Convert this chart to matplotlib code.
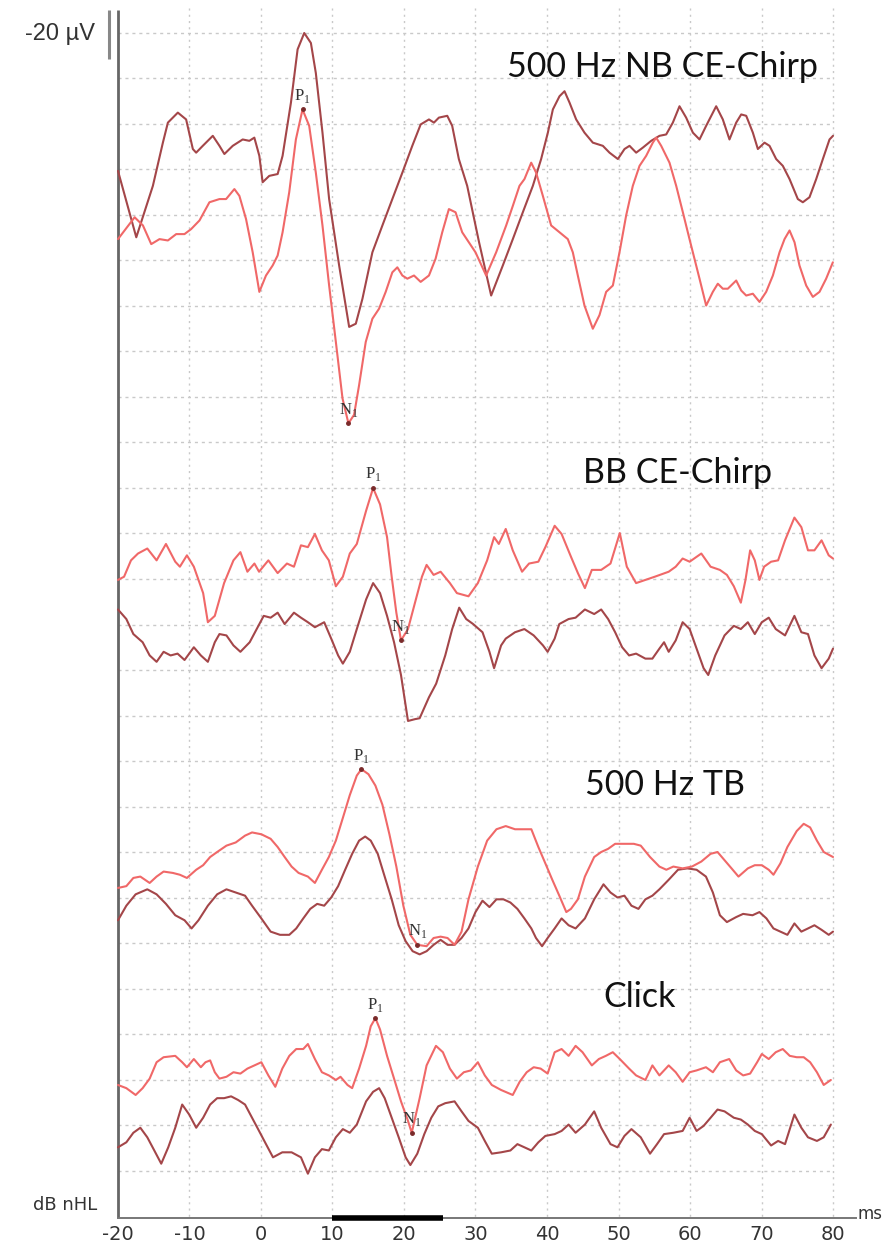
import numpy as np
import matplotlib
matplotlib.use("Agg")
import matplotlib.pyplot as plt

# ---------------- data (latency in ms, vertical position in grid divisions from top) -------------
nb_dark = [(-20, 3.03), (-17.44, 4.49), (-15.12, 3.36), (-13.72, 2.41), (-13.02, 1.97), (-11.63, 1.75),
           (-10.47, 1.90), (-9.53, 2.55), (-9.07, 2.63), (-8.14, 2.48), (-6.74, 2.26), (-5.81, 2.48),
           (-5.12, 2.66), (-3.95, 2.48), (-2.56, 2.34), (-1.63, 2.37), (-0.93, 2.30), (-0.23, 2.70),
           (0.23, 3.28), (1.16, 3.14), (2.33, 3.10), (3.02, 2.70), (4.19, 1.53), (5.12, 0.36), (6.05, 0.0),
           (6.98, 0.22), (7.67, 0.88), (8.6, 2.19), (9.53, 3.65), (10.93, 5.11), (12.33, 6.46), (13.26, 6.39),
           (14.19, 5.84), (15.58, 4.82), (16.98, 4.23), (18.37, 3.65), (19.77, 3.07), (21.16, 2.48),
           (22.33, 2.01), (23.49, 1.90), (24.19, 1.97), (24.88, 1.86), (26.05, 1.82), (26.74, 2.04),
           (27.67, 2.77), (28.84, 3.36), (30.5, 4.6), (32.19, 5.77), (33.82, 5.11), (35.22, 4.53),
           (36.62, 3.94), (38.02, 3.36), (39.18, 2.77), (40.12, 2.19), (40.82, 1.68), (41.75, 1.39),
           (42.45, 1.28), (43.15, 1.53), (44.08, 1.90), (45.24, 2.19), (46.41, 2.41), (47.81, 2.48),
           (48.74, 2.63), (49.91, 2.77), (50.84, 2.55), (51.54, 2.48), (52.47, 2.63), (53.4, 2.52),
           (54.57, 2.37), (55.73, 2.26), (56.67, 2.23), (57.6, 1.97), (58.53, 1.61), (59.46, 1.86),
           (60.4, 2.19), (61.33, 2.34), (62.26, 2.04), (63.66, 1.61), (64.59, 1.90), (65.52, 2.34),
           (66.46, 1.97), (67.16, 1.79), (67.86, 1.82), (68.79, 2.19), (69.49, 2.55), (70.42, 2.41),
           (71.12, 2.48), (72.05, 2.77), (72.98, 2.92), (73.92, 3.21), (75.08, 3.65), (75.78, 3.72),
           (76.71, 3.61), (77.65, 3.21), (78.58, 2.77), (79.51, 2.34), (80.0, 2.26)]

nb_light = [(-20, 4.53), (-17.67, 4.05), (-16.51, 4.23), (-15.35, 4.64), (-14.19, 4.53), (-13.02, 4.56),
            (-11.86, 4.42), (-10.7, 4.42), (-9.77, 4.31), (-8.6, 4.12), (-7.21, 3.72), (-5.81, 3.65),
            (-4.88, 3.65), (-3.72, 3.43), (-3.02, 3.58), (-2.09, 4.09), (-1.16, 4.82), (-0.23, 5.69),
            (0.7, 5.33), (1.63, 5.11), (2.33, 4.89), (3.02, 4.38), (3.95, 3.50), (4.88, 2.34), (5.81, 1.68),
            (6.74, 2.04), (7.67, 3.07), (8.6, 4.23), (9.53, 5.55), (10.47, 6.79), (11.4, 8.03), (12.23, 8.58),
            (13.02, 8.39), (13.72, 7.74), (14.65, 6.79), (15.58, 6.28), (16.51, 6.06), (17.44, 5.69),
            (18.37, 5.26), (19.07, 5.15), (19.77, 5.33), (20.47, 5.40), (21.4, 5.33), (22.33, 5.47),
            (23.49, 5.33), (24.42, 4.96), (25.35, 4.38), (26.28, 3.87), (27.21, 3.94), (28.14, 4.38),
            (29.07, 4.60), (30.0, 4.82), (31.49, 5.33), (32.89, 4.82), (34.29, 4.23), (35.22, 3.80),
            (36.15, 3.36), (36.85, 3.21), (37.79, 2.85), (38.48, 3.07), (39.42, 3.58), (40.58, 4.23),
            (41.75, 4.38), (42.91, 4.53), (43.61, 4.82), (44.31, 5.33), (45.24, 5.99), (46.41, 6.50),
            (47.34, 6.20), (48.27, 5.69), (49.21, 5.55), (50.14, 4.82), (51.07, 4.01), (52.0, 3.36),
            (52.94, 2.92), (53.87, 2.70), (54.8, 2.41), (55.27, 2.30), (55.97, 2.48), (57.13, 2.85),
            (58.07, 3.36), (59.0, 3.94), (59.93, 4.53), (61.33, 5.40), (62.26, 5.99), (63.19, 5.69),
            (63.89, 5.51), (64.59, 5.62), (65.29, 5.62), (66.46, 5.44), (67.16, 5.66), (67.86, 5.77),
            (68.79, 5.73), (69.72, 5.91), (70.65, 5.69), (71.59, 5.33), (72.52, 4.82), (73.22, 4.53),
            (73.92, 4.34), (74.62, 4.60), (75.31, 5.11), (76.25, 5.55), (77.18, 5.80), (78.11, 5.69),
            (79.04, 5.40), (79.98, 5.04)]

bb_light = [(-20, 12.02), (-19.15, 11.95), (-18.18, 11.59), (-17.2, 11.44), (-15.9, 11.33), (-14.6, 11.59),
            (-13.29, 11.23), (-11.99, 11.62), (-11.34, 11.73), (-10.36, 11.48), (-9.39, 11.73), (-8.09, 12.31),
            (-7.43, 12.95), (-6.46, 12.81), (-5.16, 12.09), (-3.85, 11.59), (-2.88, 11.41), (-1.9, 11.84),
            (-0.92, 11.66), (-0.27, 11.84), (1.03, 11.59), (2.33, 11.87), (3.63, 11.66), (4.61, 11.73),
            (5.59, 11.26), (6.56, 11.30), (7.54, 11.01), (8.52, 11.37), (9.49, 11.59), (10.47, 12.16),
            (11.45, 11.95), (12.42, 11.44), (13.4, 11.23), (14.7, 10.5), (15.68, 10.0), (16.65, 10.36),
            (17.63, 11.08), (18.28, 11.95), (18.93, 12.74), (19.58, 13.35), (20.56, 13.1), (21.54, 12.52),
            (22.51, 11.95), (23.16, 11.69), (24.14, 11.91), (25.12, 11.84), (26.42, 12.09), (27.4, 12.31),
            (29.02, 12.38), (30.33, 12.09), (31.63, 11.59), (32.6, 11.08), (33.26, 11.23), (34.23, 10.9),
            (35.21, 11.37), (36.51, 11.84), (37.49, 11.66), (38.79, 11.62), (39.77, 11.30), (41.07, 10.83),
            (42.04, 11.01), (43.35, 11.51), (44.32, 11.87), (45.3, 12.2), (46.27, 11.8), (47.58, 11.8),
            (48.88, 11.66), (50.18, 10.99), (51.16, 11.73), (52.46, 12.09), (53.76, 12.02), (55.07, 11.95),
            (57.02, 11.84), (58.0, 11.73), (58.97, 11.55), (59.95, 11.62), (61.58, 11.44), (62.88, 11.73),
            (64.18, 11.8), (65.16, 11.91), (66.13, 12.16), (67.11, 12.52), (67.76, 12.02), (68.41, 11.37),
            (69.06, 11.59), (69.71, 12.02), (70.36, 11.73), (71.34, 11.62), (72.32, 11.59), (73.29, 11.15),
            (74.6, 10.65), (75.57, 10.86), (76.5, 11.37), (77.4, 11.37), (78.4, 11.15), (79.4, 11.48),
            (80.0, 11.55)]

bb_dark = [(-20, 12.67), (-18.83, 12.88), (-17.85, 13.21), (-16.55, 13.39), (-15.57, 13.68), (-14.6, 13.82),
           (-13.62, 13.6), (-12.64, 13.68), (-11.67, 13.64), (-10.69, 13.78), (-9.39, 13.5), (-8.41, 13.68),
           (-7.43, 13.82), (-6.46, 13.39), (-5.81, 13.21), (-4.83, 13.24), (-3.85, 13.46), (-2.88, 13.6),
           (-1.58, 13.39), (-0.6, 13.1), (0.38, 12.81), (1.35, 12.85), (2.33, 12.74), (3.31, 12.99),
           (4.61, 12.74), (5.59, 12.85), (6.56, 12.95), (7.54, 13.06), (8.84, 12.95), (9.82, 13.31),
           (10.79, 13.68), (11.45, 13.86), (12.42, 13.6), (13.4, 13.1), (14.7, 12.45), (15.68, 12.09),
           (16.65, 12.31), (17.63, 12.81), (18.61, 13.39), (19.58, 14.11), (20.56, 15.12), (21.54, 15.08),
           (22.19, 15.06), (23.49, 14.6), (24.5, 14.3), (25.77, 13.68), (26.74, 13.1), (27.72, 12.63),
           (28.7, 12.88), (29.67, 12.99), (30.98, 13.17), (31.95, 13.6), (32.6, 13.96), (33.58, 13.46),
           (34.23, 13.31), (35.53, 13.17), (36.84, 13.1), (38.14, 13.24), (39.44, 13.46), (40.09, 13.6),
           (41.07, 13.31), (41.72, 12.99), (43.02, 12.88), (44.0, 12.85), (45.3, 12.67), (46.6, 12.77),
           (47.58, 12.67), (48.55, 12.88), (49.53, 13.17), (50.51, 13.5), (51.48, 13.68), (52.46, 13.64),
           (53.76, 13.75), (54.74, 13.75), (55.72, 13.53), (56.37, 13.39), (57.02, 13.6), (58.0, 13.35),
           (58.97, 12.95), (59.95, 13.1), (60.92, 13.53), (61.9, 13.96), (62.55, 14.11), (63.53, 13.68),
           (64.83, 13.24), (66.13, 13.03), (67.11, 13.1), (68.09, 12.95), (69.06, 13.21), (70.04, 12.95),
           (71.01, 12.85), (71.99, 13.1), (73.29, 13.24), (74.6, 12.81), (75.57, 13.17), (76.5, 13.21),
           (77.4, 13.68), (78.4, 13.96), (79.4, 13.75), (80.0, 13.53)]

tb_light = [(-20, 18.79), (-18.83, 18.75), (-17.85, 18.57), (-16.875, 18.54), (-15.57, 18.68), (-14.6, 18.54),
            (-13.62, 18.43), (-12.32, 18.46), (-11.34, 18.5), (-10.36, 18.57), (-9.06, 18.39), (-8.09, 18.29),
            (-7.11, 18.11), (-6.13, 18.0), (-4.83, 17.86), (-3.53, 17.79), (-2.23, 17.64), (-1.25, 17.57),
            (0.05, 17.61), (1.35, 17.71), (2.33, 17.89), (3.31, 18.11), (4.28, 18.32), (5.26, 18.46),
            (6.56, 18.54), (7.54, 18.68), (8.52, 18.39), (9.49, 18.11), (10.47, 17.75), (11.45, 17.25),
            (12.42, 16.75), (13.4, 16.32), (14.05, 16.18), (15.03, 16.29), (16.0, 16.54), (16.98, 16.96),
            (17.96, 17.61), (18.93, 18.32), (19.91, 19.18), (20.89, 19.82), (21.86, 20.04), (23.16, 20.07),
            (24.14, 19.89), (25.12, 19.86), (26.09, 19.89), (27.07, 20.04), (28.05, 19.75), (29.02, 19.04),
            (30.33, 18.32), (31.63, 17.75), (32.93, 17.5), (34.23, 17.43), (35.53, 17.5), (36.84, 17.5),
            (37.81, 17.5), (38.79, 17.89), (39.77, 18.25), (40.74, 18.61), (41.72, 18.96), (42.7, 19.32),
            (43.35, 19.25), (44.32, 19.04), (45.3, 18.54), (46.6, 18.11), (47.58, 18.0), (48.55, 17.93),
            (49.53, 17.82), (50.51, 17.82), (52.14, 17.82), (53.11, 17.86), (54.41, 18.11), (55.72, 18.32),
            (56.69, 18.39), (57.67, 18.32), (58.97, 18.36), (60.27, 18.32), (61.58, 18.21), (62.88, 18.04),
            (63.85, 18.0), (64.83, 18.18), (65.81, 18.36), (66.78, 18.54), (68.09, 18.36), (69.06, 18.29),
            (70.04, 18.29), (71.01, 18.39), (71.67, 18.5), (72.64, 18.25), (73.62, 17.89), (74.92, 17.54),
            (75.9, 17.38), (76.8, 17.46), (77.75, 17.75), (78.7, 18.0), (80.0, 18.11)]

tb_dark = [(-20, 19.5), (-18.83, 19.18), (-17.53, 18.93), (-15.9, 18.82), (-14.6, 18.93), (-13.29, 19.14),
           (-11.99, 19.39), (-10.69, 19.5), (-9.71, 19.68), (-8.74, 19.5), (-7.43, 19.18), (-6.13, 18.93),
           (-4.83, 18.82), (-3.53, 18.89), (-2.23, 18.96), (-1.25, 19.18), (0.05, 19.46), (1.35, 19.75),
           (2.66, 19.82), (3.96, 19.82), (4.93, 19.68), (5.91, 19.46), (6.89, 19.25), (7.86, 19.14),
           (8.84, 19.18), (9.82, 19.0), (10.79, 18.75), (11.77, 18.39), (12.75, 18.04), (13.72, 17.75),
           (14.57, 17.66), (15.35, 17.75), (16.33, 18.04), (17.3, 18.54), (18.28, 19.04), (19.26, 19.61),
           (20.23, 19.96), (21.21, 20.18), (22.19, 20.25), (23.16, 20.18), (24.14, 20.04), (25.12, 19.93),
           (26.09, 20.04), (27.07, 20.04), (28.05, 19.89), (29.02, 19.68), (30.0, 19.32), (30.98, 19.07),
           (31.95, 19.21), (32.93, 19.04), (33.91, 19.04), (34.88, 19.11), (35.86, 19.25), (36.84, 19.46),
           (37.81, 19.68), (38.46, 19.89), (39.31, 20.07), (40.09, 19.89), (41.07, 19.68), (42.04, 19.46),
           (43.02, 19.61), (44.0, 19.68), (45.3, 19.46), (46.6, 19.04), (47.9, 18.71), (48.88, 18.89),
           (49.86, 19.0), (50.83, 18.96), (51.81, 19.18), (52.79, 19.25), (53.76, 19.04), (54.74, 18.96),
           (55.72, 18.82), (57.02, 18.61), (58.32, 18.39), (59.62, 18.36), (60.92, 18.39), (62.23, 18.54),
           (63.2, 18.89), (64.18, 19.39), (65.16, 19.54), (66.46, 19.43), (67.43, 19.36), (68.74, 19.39),
           (69.71, 19.32), (70.69, 19.46), (71.67, 19.68), (72.64, 19.75), (73.62, 19.82), (74.6, 19.57),
           (75.57, 19.75), (76.5, 19.68), (77.4, 19.61), (78.4, 19.71), (79.4, 19.82), (80.0, 19.75)]

click_light = [(-20, 23.12), (-18.83, 23.19), (-17.53, 23.34), (-16.55, 23.19), (-15.57, 22.98), (-14.6, 22.62),
               (-13.62, 22.51), (-11.99, 22.48), (-11.02, 22.62), (-10.36, 22.73), (-9.39, 22.55), (-8.41, 22.73),
               (-7.76, 22.62), (-7.11, 22.58), (-6.46, 22.84), (-5.81, 22.98), (-4.83, 22.94), (-3.85, 22.84),
               (-2.88, 22.87), (-1.9, 22.76), (-0.92, 22.69), (0.05, 22.62), (1.03, 22.91), (2.0, 23.16),
               (2.98, 22.76), (3.96, 22.48), (4.93, 22.33), (5.91, 22.33), (6.56, 22.22), (7.54, 22.55),
               (8.52, 22.84), (9.49, 22.91), (10.47, 23.01), (11.12, 22.94), (12.1, 23.12), (12.75, 23.19),
               (13.72, 22.76), (14.7, 22.26), (15.35, 21.83), (16.0, 21.65), (16.65, 21.9), (17.63, 22.48),
               (18.61, 22.98), (19.58, 23.48), (20.56, 23.91), (21.08, 24.17), (22.19, 23.41), (23.16, 22.69),
               (24.47, 22.26), (25.44, 22.4), (26.42, 22.76), (27.4, 22.98), (28.37, 22.84), (29.35, 22.8),
               (30.33, 22.62), (31.3, 22.91), (32.28, 23.12), (33.58, 23.23), (35.21, 23.34), (36.18, 23.05),
               (37.16, 22.84), (38.14, 22.73), (39.11, 22.76), (40.09, 22.87), (41.07, 22.4), (42.04, 22.33),
               (43.02, 22.48), (44.0, 22.26), (44.97, 22.4), (46.27, 22.69), (47.25, 22.55), (48.23, 22.48),
               (49.2, 22.4), (50.18, 22.55), (51.48, 22.76), (52.46, 22.91), (53.76, 23.01), (54.74, 22.69),
               (55.72, 22.91), (57.02, 22.69), (58.0, 22.84), (58.97, 23.05), (59.95, 22.84), (60.92, 22.8),
               (62.23, 22.73), (63.2, 22.84), (64.18, 22.62), (65.48, 22.55), (66.46, 22.8), (67.43, 22.91),
               (68.41, 22.87), (69.39, 22.62), (70.04, 22.44), (71.01, 22.55), (71.99, 22.4), (72.97, 22.33),
               (73.95, 22.48), (74.92, 22.51), (75.9, 22.51), (76.8, 22.62), (77.75, 22.84), (78.7, 23.12),
               (79.7, 23.01)]

click_dark = [(-20, 24.49), (-18.83, 24.38), (-17.85, 24.17), (-16.875, 24.06), (-15.9, 24.27), (-14.92, 24.56),
              (-13.95, 24.85), (-12.97, 24.49), (-11.99, 24.06), (-11.02, 23.55), (-10.04, 23.77), (-9.06, 24.06),
              (-8.09, 23.84), (-7.11, 23.55), (-6.13, 23.41), (-5.16, 23.41), (-4.18, 23.37), (-3.2, 23.45),
              (-2.23, 23.55), (-1.25, 23.84), (-0.27, 24.13), (0.7, 24.42), (1.68, 24.71), (2.98, 24.6),
              (4.28, 24.6), (5.59, 24.71), (6.56, 25.07), (7.54, 24.71), (8.52, 24.53), (9.49, 24.56),
              (10.47, 24.27), (11.45, 24.09), (12.42, 24.17), (13.4, 23.99), (14.7, 23.48), (15.68, 23.27),
              (16.52, 23.19), (17.3, 23.41), (18.28, 23.84), (19.26, 24.27), (20.23, 24.71), (20.89, 24.88),
              (21.86, 24.63), (22.84, 24.2), (23.82, 23.84), (24.79, 23.59), (25.77, 23.52), (27.07, 23.48),
              (28.05, 23.7), (29.02, 23.91), (30.33, 24.06), (31.3, 24.35), (32.28, 24.63), (33.58, 24.6),
              (34.88, 24.56), (35.86, 24.42), (36.84, 24.49), (37.81, 24.56), (38.79, 24.38), (39.77, 24.24),
              (41.07, 24.2), (42.04, 24.13), (43.02, 23.99), (44.0, 24.17), (45.3, 23.99), (46.6, 23.7),
              (47.58, 24.06), (48.88, 24.42), (49.86, 24.49), (50.83, 24.24), (51.81, 24.09), (53.11, 24.27),
              (54.41, 24.63), (55.39, 24.42), (56.37, 24.2), (57.67, 24.17), (58.97, 24.13), (59.95, 23.84),
              (60.92, 24.13), (61.9, 24.02), (62.88, 23.84), (63.85, 23.66), (64.83, 23.7), (66.13, 23.84),
              (67.11, 23.88), (68.09, 23.99), (69.06, 24.13), (70.04, 24.2), (71.34, 24.45), (72.32, 24.35),
              (73.29, 24.42), (74.6, 23.77), (75.57, 24.06), (76.5, 24.27), (77.75, 24.35), (78.7, 24.27),
              (79.7, 23.99)]

# peak markers (latency ms, position)
p1_marks = [(5.81, 1.68), (15.68, 10.0), (14.05, 16.18), (16.0, 21.65)]
n1_marks = [(12.23, 8.58), (19.58, 13.35), (21.86, 20.04), (21.08, 24.17)]

group_labels = ["500 Hz NB CE-Chirp", "BB CE-Chirp", "500 Hz TB", "Click"]
group_label_pos = [(34.4, 0.97), (45.0, 9.89), (45.3, 16.75), (47.9, 21.4)]

x_ticks = [-20, -10, 0, 10, 20, 30, 40, 50, 60, 70, 80]
stim_bar = (10, 25.5)
n_hgrid = 26

# ---------------- layout ----------------
W, H, DPI = 890, 1245, 100
X_LEFT, X_RIGHT = -36.50, 87.97
Y_TOP, Y_BOTTOM = -0.725, 26.637
AXIS_Y = 26.04

DARK = "#a44649"
LIGHT = "#f06868"
GRID = "#c9c9c9"

fig = plt.figure(figsize=(W / DPI, H / DPI), dpi=DPI)
fig.patch.set_facecolor("white")
ax = fig.add_axes([0, 0, 1, 1])
ax.set_xlim(X_LEFT, X_RIGHT)
ax.set_ylim(Y_BOTTOM, Y_TOP)
ax.axis("off")

# grid
for k in range(n_hgrid):
    ax.plot([-20, 80], [k, k], color=GRID, lw=1.0, ls=(0, (2.2, 2.8)), zorder=1)
for xt in x_ticks[1:]:
    ax.plot([xt, xt], [-0.55, AXIS_Y], color=GRID, lw=1.0, ls=(0, (1.5, 3.0)), zorder=1)

# axes lines
ax.plot([-20, -20], [-0.505, AXIS_Y], color="#666666", lw=2.0, zorder=3, solid_capstyle="butt")
ax.plot([-21.26, -21.26], [-0.505, 0.57], color="#888888", lw=2.2, zorder=3, solid_capstyle="butt")
ax.plot([-20, 83.2], [AXIS_Y, AXIS_Y], color="#777777", lw=1.4, zorder=3)
ax.plot(list(stim_bar), [AXIS_Y, AXIS_Y], color="black", lw=4.0, zorder=4, solid_capstyle="butt")

# traces
for tr, col in [(nb_dark, DARK), (nb_light, LIGHT), (bb_dark, DARK), (bb_light, LIGHT),
                (tb_dark, DARK), (tb_light, LIGHT), (click_dark, DARK), (click_light, LIGHT)]:
    a = np.array(tr)
    ax.plot(a[:, 0], a[:, 1], color=col, lw=1.5, zorder=5, solid_joinstyle="round",
            solid_capstyle="round")

# peak labels
for marks, letter in [(p1_marks, "P"), (n1_marks, "N")]:
    for (t, v) in marks:
        ax.plot(t, v, "o", ms=2.5, color="#7a2a2a", zorder=6)
        ax.text(t, v - 0.1, letter + r"$_\mathregular{1}$", ha="center", va="bottom", fontsize=12,
                family="Liberation Serif", color="#333333", zorder=7)

# group labels
txts = []
for s, (x, y) in zip(group_labels, group_label_pos):
    txts.append(ax.text(x, y, s, ha="left", va="baseline", fontsize=22, family="Lato",
                        color="#111111", zorder=8))
fig.canvas.draw()
r = fig.canvas.get_renderer()
w0 = txts[0].get_window_extent(r).width
fs = 22 * 310.0 / w0
for t in txts:
    t.set_fontsize(fs)

# axis texts
ax.text(-23.2, 0.02, "-20 µV", ha="right", va="center", fontsize=17, family="Liberation Sans",
        color="#333333")
ax.text(-22.9, 25.76, "dB nHL", ha="right", va="center", fontsize=13, family="Liberation Sans Narrow",
        color="#333333")
for xt in x_ticks:
    ax.text(xt, 26.4, str(xt), ha="center", va="center", fontsize=14, family="Liberation Sans Narrow",
            color="#333333")
ax.text(83.4, 25.95, "ms", ha="left", va="center", fontsize=12, family="Liberation Sans Narrow",
        color="#333333")

fig.savefig("out.png", dpi=DPI, facecolor="white")
